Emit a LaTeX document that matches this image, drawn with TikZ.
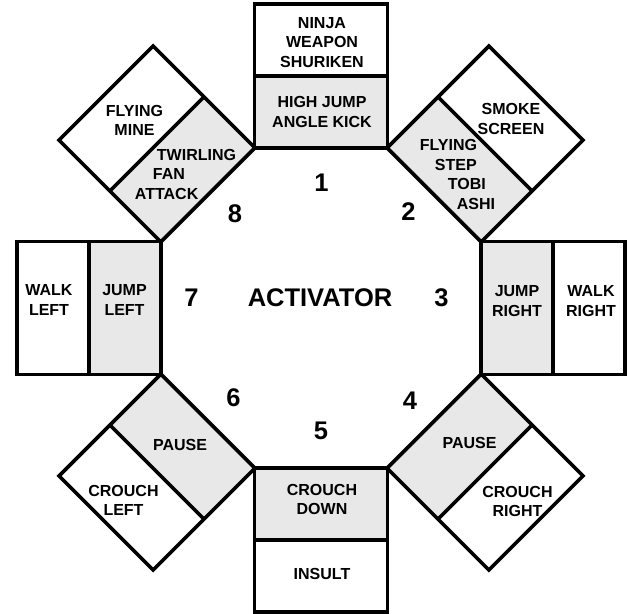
\documentclass[tikz,border=0pt]{standalone}
\usepackage{fontspec}
\setmainfont{Liberation Sans}
\begin{document}
\begin{tikzpicture}[x=1pt,y=1pt,
        every node/.style={font=\bfseries\fontsize{16}{19.5}\selectfont, align=center, inner sep=0pt},
        big/.style={font=\bfseries\fontsize{25.5}{30}\selectfont},
        box/.style={line width=3.6pt},
        inner/.style={fill=black!9}]
        \useasboundingbox (-321,-305) rectangle (310,308);

        % shaded halves next to the activator
        \fill[inner,rotate=0] (160,-66.5) rectangle (232,66.5);
        \fill[inner,rotate=45] (160,-66.5) rectangle (232,66.5);
        \fill[inner,rotate=90] (160,-66.5) rectangle (232,66.5);
        \fill[inner,rotate=135] (160,-66.5) rectangle (232,66.5);
        \fill[inner,rotate=180] (160,-66.5) rectangle (232,66.5);
        \fill[inner,rotate=225] (160,-66.5) rectangle (232,66.5);
        \fill[inner,rotate=270] (160,-66.5) rectangle (232,66.5);
        \fill[inner,rotate=315] (160,-66.5) rectangle (232,66.5);

        % the eight boxes round the octagon
        \draw[box,rotate=0] (160,-66.5) rectangle (304,66.5) (232,-66.5) -- (232,66.5);
        \draw[box,rotate=45] (160,-66.5) rectangle (304,66.5) (232,-66.5) -- (232,66.5);
        \draw[box,rotate=90] (160,-66.5) rectangle (304,66.5) (232,-66.5) -- (232,66.5);
        \draw[box,rotate=135] (160,-66.5) rectangle (304,66.5) (232,-66.5) -- (232,66.5);
        \draw[box,rotate=180] (160,-66.5) rectangle (304,66.5) (232,-66.5) -- (232,66.5);
        \draw[box,rotate=225] (160,-66.5) rectangle (304,66.5) (232,-66.5) -- (232,66.5);
        \draw[box,rotate=270] (160,-66.5) rectangle (304,66.5) (232,-66.5) -- (232,66.5);
        \draw[box,rotate=315] (160,-66.5) rectangle (304,66.5) (232,-66.5) -- (232,66.5);

        \node[big] (act) at (-1,10.5) {ACTIVATOR};

        \node[big] (n1) at (0.5,125.5) {1};
        \node[big] (n2) at (87.5,96) {2};
        \node[big] (n3) at (120.5,10.5) {3};
        \node[big] (n4) at (89,-93) {4};
        \node[big] (n5) at (0,-123) {5};
        \node[big] (n6) at (-87.5,-89.5) {6};
        \node[big] (n7) at (-129.5,10.5) {7};
        \node[big] (n8) at (-86,94.5) {8};

        \node (ninja) at (1,265.5) {NINJA\\WEAPON\\SHURIKEN};
        \node (highjump) at (1,196) {HIGH JUMP\\ANGLE KICK};
        \node (smoke) at (190,189) {SMOKE\\SCREEN};
        \node[align=left] (flystep) at (136.5,133.5) {FLYING\\\hspace*{15pt}STEP\\\hspace*{28pt}TOBI\\\hspace*{37pt}ASHI};
        \node (jumpr) at (196,7) {JUMP\\RIGHT};
        \node (walkr) at (270,7) {WALK\\RIGHT};
        \node (pauser) at (148.5,-135) {PAUSE};
        \node (crouchr) at (196.5,-193.5) {CROUCH\\RIGHT};
        \node (crouchd) at (1,-191.5) {CROUCH\\DOWN};
        \node (insult) at (1,-266) {INSULT};
        \node (pausel) at (-141,-137) {PAUSE};
        \node (crouchl) at (-197.5,-192.5) {CROUCH\\LEFT};
        \node (jumpl) at (-196.5,8) {JUMP\\LEFT};
        \node (walkl) at (-272,8) {WALK\\LEFT};
        \node[align=left] (twirl) at (-135.5,134) {\hspace*{22pt}TWIRLING\\\hspace*{18pt}FAN\\ATTACK};
        \node (mine) at (-186.5,187.5) {FLYING\\MINE};
    \end{tikzpicture}
\end{document}
